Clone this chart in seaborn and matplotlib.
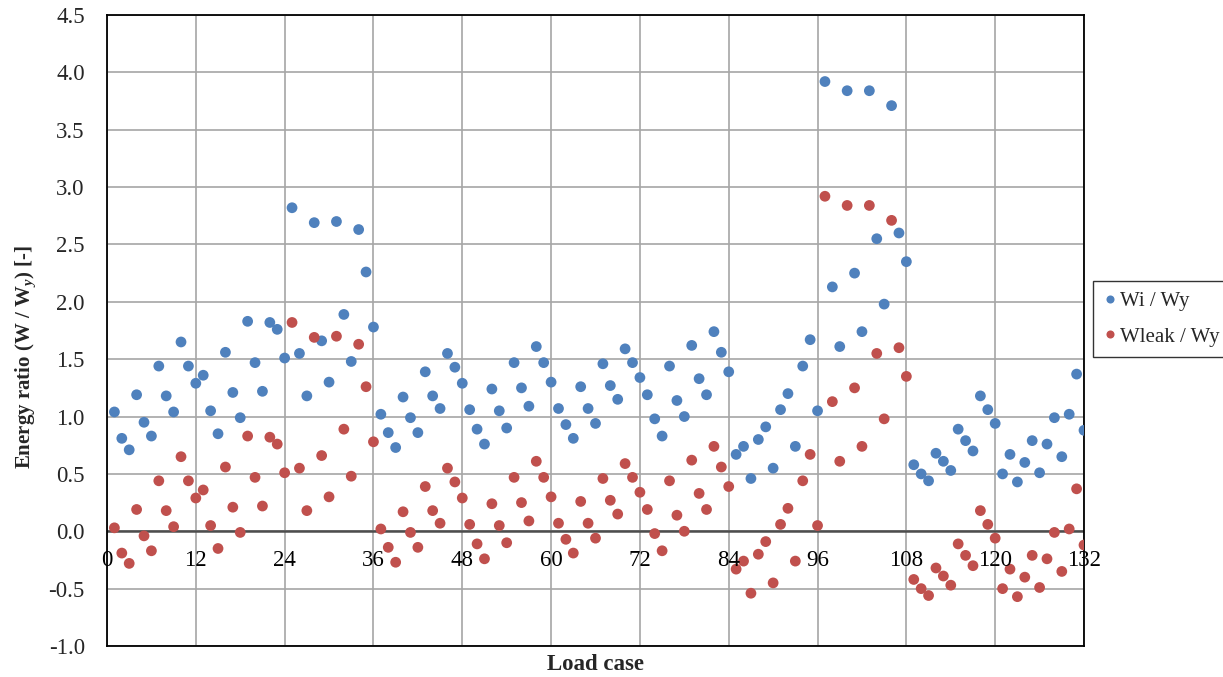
import matplotlib
matplotlib.use("Agg")
import matplotlib.pyplot as plt
import matplotlib.transforms as mtransforms
import seaborn as sns
import pandas as pd

load_case = list(range(1, 133))

wi_wy = [
    1.04, 0.81, 0.71, 1.19, 0.95, 0.83, 1.44, 1.18, 1.04, 1.65,
    1.44, 1.29, 1.36, 1.05, 0.85, 1.56, 1.21, 0.99, 1.83, 1.47,
    1.22, 1.82, 1.76, 1.51, 2.82, 1.55, 1.18, 2.69, 1.66, 1.30,
    2.70, 1.89, 1.48, 2.63, 2.26, 1.78, 1.02, 0.86, 0.73, 1.17,
    0.99, 0.86, 1.39, 1.18, 1.07, 1.55, 1.43, 1.29, 1.06, 0.89,
    0.76, 1.24, 1.05, 0.90, 1.47, 1.25, 1.09, 1.61, 1.47, 1.30,
    1.07, 0.93, 0.81, 1.26, 1.07, 0.94, 1.46, 1.27, 1.15, 1.59,
    1.47, 1.34, 1.19, 0.98, 0.83, 1.44, 1.14, 1.00, 1.62, 1.33,
    1.19, 1.74, 1.56, 1.39, 0.67, 0.74, 0.46, 0.80, 0.91, 0.55,
    1.06, 1.20, 0.74, 1.44, 1.67, 1.05, 3.92, 2.13, 1.61, 3.84,
    2.25, 1.74, 3.84, 2.55, 1.98, 3.71, 2.60, 2.35, 0.58, 0.50,
    0.44, 0.68, 0.61, 0.53, 0.89, 0.79, 0.70, 1.18, 1.06, 0.94,
    0.50, 0.67, 0.43, 0.60, 0.79, 0.51, 0.76, 0.99, 0.65, 1.02,
    1.37, 0.88,
]

wleak_wy = [
    0.03, -0.19, -0.28, 0.19, -0.04, -0.17, 0.44, 0.18, 0.04, 0.65,
    0.44, 0.29, 0.36, 0.05, -0.15, 0.56, 0.21, -0.01, 0.83, 0.47,
    0.22, 0.82, 0.76, 0.51, 1.82, 0.55, 0.18, 1.69, 0.66, 0.30,
    1.70, 0.89, 0.48, 1.63, 1.26, 0.78, 0.02, -0.14, -0.27, 0.17,
    -0.01, -0.14, 0.39, 0.18, 0.07, 0.55, 0.43, 0.29, 0.06, -0.11,
    -0.24, 0.24, 0.05, -0.10, 0.47, 0.25, 0.09, 0.61, 0.47, 0.30,
    0.07, -0.07, -0.19, 0.26, 0.07, -0.06, 0.46, 0.27, 0.15, 0.59,
    0.47, 0.34, 0.19, -0.02, -0.17, 0.44, 0.14, 0.00, 0.62, 0.33,
    0.19, 0.74, 0.56, 0.39, -0.33, -0.26, -0.54, -0.20, -0.09, -0.45,
    0.06, 0.20, -0.26, 0.44, 0.67, 0.05, 2.92, 1.13, 0.61, 2.84,
    1.25, 0.74, 2.84, 1.55, 0.98, 2.71, 1.60, 1.35, -0.42, -0.50,
    -0.56, -0.32, -0.39, -0.47, -0.11, -0.21, -0.30, 0.18, 0.06, -0.06,
    -0.50, -0.33, -0.57, -0.40, -0.21, -0.49, -0.24, -0.01, -0.35, 0.02,
    0.37, -0.12,
]

series_names = ["Wi / Wy", "Wleak / Wy"]
x_ticks = list(range(0, 133, 12))
y_ticks = [-1.0, -0.5, 0.0, 0.5, 1.0, 1.5, 2.0, 2.5, 3.0, 3.5, 4.0, 4.5]

df = pd.DataFrame({
    "Load case": load_case * 2,
    "ratio": wi_wy + wleak_wy,
    "series": [series_names[0]] * len(wi_wy) + [series_names[1]] * len(wleak_wy),
})

sns.set_theme(style="white")
plt.rcParams["font.family"] = ["Liberation Serif", "DejaVu Serif"]
plt.rcParams["mathtext.fontset"] = "custom"
plt.rcParams["mathtext.rm"] = "Liberation Serif"
plt.rcParams["mathtext.it"] = "Liberation Serif:italic"
plt.rcParams["mathtext.bf"] = "Liberation Serif:bold"
plt.rcParams["mathtext.bfit"] = "Liberation Serif:bold:italic"

fig = plt.figure(figsize=(12.23, 6.77), dpi=100)
ax = fig.add_axes([107 / 1223, 1 - 646 / 677, (1084 - 107) / 1223, (646 - 15) / 677])

palette = {"Wi / Wy": "#4F81BD", "Wleak / Wy": "#C0504D"}
sns.scatterplot(data=df, x="Load case", y="ratio", hue="series", palette=palette,
                s=60, edgecolor="none", ax=ax, legend=True, zorder=3)

ax.set_xlim(0, 132)
ax.set_ylim(-1.0, 4.5)
ax.set_xticks(x_ticks)
ax.set_yticks(y_ticks)
ax.set_yticklabels([f"{v:.1f}" for v in y_ticks])
ax.set_xticklabels([])

ax.grid(True, color="#A6A6A6", linewidth=1.2, zorder=0)
ax.set_axisbelow(True)
ax.axhline(0, color="#4D4D4D", linewidth=1.8, zorder=1)

for side in ["top", "bottom", "left", "right"]:
    ax.spines[side].set_visible(True)
    ax.spines[side].set_color("black")
    ax.spines[side].set_linewidth(1.3)

ax.tick_params(axis="y", labelsize=16.5, length=0, pad=16)
ax.tick_params(axis="x", length=0)

trans = mtransforms.blended_transform_factory(ax.transData, ax.transData)
for v in x_ticks:
    ax.text(v, -0.165, str(v), transform=trans, ha="center", va="top",
            fontsize=16.5, color="black", zorder=4)

ax.set_xlabel("Load case", fontsize=16.5, fontweight="bold")
ax.xaxis.set_label_coords(0.5, -0.012)
ax.set_ylabel(r"Energy ratio (W / W$_{\mathbfit{y}}$) [-]", fontsize=15, fontweight="bold")
ax.yaxis.set_label_coords(-0.071, 0.458)

h, l = ax.get_legend_handles_labels()
ax.get_legend().remove()
leg = fig.legend(h, l, loc="lower left", bbox_to_anchor=(1093 / 1223, 1 - 357 / 677),
                 frameon=True, fontsize=15, fancybox=False, edgecolor="black",
                 handletextpad=0.2, borderpad=0.5, labelspacing=0.75, markerscale=0.75,
                 handlelength=0.6, borderaxespad=0)
leg.get_frame().set_linewidth(1.0)

fig.savefig("out.png", dpi=100)
